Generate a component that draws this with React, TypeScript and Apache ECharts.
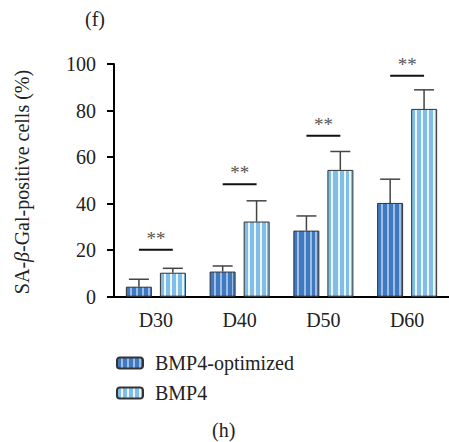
import React, { useEffect, useRef } from "react";
import * as echarts from "echarts";

const categories = ["D30", "D40", "D50", "D60"];
const optimizedValues = [4.3, 10.8, 28.4, 40.3];
const optimizedErrTop = [7.5, 13.2, 34.7, 50.5];
const bmp4Values = [10.3, 32.3, 54.5, 80.7];
const bmp4ErrTop = [12.2, 41.2, 62.4, 88.9];
const sigLevels = [20.2, 48.3, 69.2, 95];
const sigLabels = ["**", "**", "**", "**"];
const yTicks = [0, 20, 40, 60, 80, 100];

const FONT = "Liberation Serif";

function stripes(base: string, stripe: string) {
  const stops: { offset: number; color: string }[] = [];
  const bands = [
    [0, 0.14, base],
    [0.14, 0.22, stripe],
    [0.22, 0.39, base],
    [0.39, 0.47, stripe],
    [0.47, 0.63, base],
    [0.63, 0.71, stripe],
    [0.71, 0.86, base],
    [0.86, 0.93, stripe],
    [0.93, 1, base],
  ] as [number, number, string][];
  bands.forEach(([a, b, c]) => {
    stops.push({ offset: a, color: c });
    stops.push({ offset: b, color: c });
  });
  return { type: "linear", x: 0, y: 0, x2: 1, y2: 0, colorStops: stops };
}

const darkFill = stripes("#4179c0", "#9dbfe6");
const lightFill = stripes("#80bee8", "#eaf5fc");

export default function App() {
  const ref = useRef<HTMLDivElement>(null);
  useEffect(() => {
    const chart = echarts.init(ref.current!, undefined, { renderer: "svg" });
    const offsetFrac = 17 / 84;
    const errSeries = (vals: number[], tops: number[], sign: number, name: string) => ({
      type: "custom",
      name,
      z: 1,
      data: vals.map((v, i) => [i, v, tops[i]]),
      renderItem: (params: any, api: any) => {
        const idx = api.value(0);
        const band = api.size([1, 0])[0];
        const off = band * offsetFrac * sign;
        const p0 = api.coord([idx, api.value(1)]);
        const p1 = api.coord([idx, api.value(2)]);
        const x = p0[0] + off;
        const style = { stroke: "#444", lineWidth: 1.5 };
        return {
          type: "group",
          children: [
            { type: "line", shape: { x1: x, y1: p0[1], x2: x, y2: p1[1] }, style },
            { type: "line", shape: { x1: x - 10, y1: p1[1], x2: x + 10, y2: p1[1] }, style },
          ],
        };
      },
    });
    chart.setOption({
      animation: false,
      textStyle: { fontFamily: FONT },
      grid: { left: 114, top: 64, width: 336, height: 232.7 },
      legend: {
        orient: "vertical",
        left: 111,
        top: 348,
        itemWidth: 26,
        itemHeight: 11,
        itemGap: 10,
        textStyle: { fontFamily: FONT, fontSize: 20, lineHeight: 20, color: "#222", padding: [0, 0, 0, 7] },
        data: ["BMP4-optimized", "BMP4"],
      },
      xAxis: {
        type: "category",
        data: categories,
        axisLine: { lineStyle: { color: "#000", width: 2 } },
        axisTick: { alignWithLabel: true, length: 7, lineStyle: { width: 2, color: "#000" } },
        axisLabel: { fontFamily: FONT, fontSize: 20, color: "#222", margin: 13 },
      },
      yAxis: {
        type: "value",
        min: yTicks[0],
        max: yTicks[yTicks.length - 1],
        interval: 20,
        splitLine: { show: false },
        axisLine: { show: true, lineStyle: { color: "#000", width: 2 } },
        axisTick: { show: true, length: 7, lineStyle: { width: 2, color: "#000" } },
        axisLabel: { fontFamily: FONT, fontSize: 20, color: "#222", margin: 18 },
      },
      series: [
        {
          name: "BMP4-optimized",
          type: "bar",
          data: optimizedValues,
          barWidth: 26,
          barGap: "31%",
          z: 2,
          itemStyle: { color: darkFill, borderColor: "#333", borderWidth: 1 },
        },
        {
          name: "BMP4",
          type: "bar",
          data: bmp4Values,
          barWidth: 26,
          z: 2,
          itemStyle: { color: lightFill, borderColor: "#333", borderWidth: 1 },
        },
        errSeries(optimizedValues, optimizedErrTop, -1, "errA"),
        errSeries(bmp4Values, bmp4ErrTop, 1, "errB"),
        {
          type: "custom",
          name: "sig",
          z: 3,
          data: sigLevels.map((v, i) => [i, v]),
          renderItem: (params: any, api: any) => {
            const idx = api.value(0);
            const band = api.size([1, 0])[0];
            const off = band * offsetFrac;
            const p = api.coord([idx, api.value(1)]);
            return {
              type: "group",
              children: [
                {
                  type: "line",
                  shape: { x1: p[0] - off, y1: p[1], x2: p[0] + off, y2: p[1] },
                  style: { stroke: "#111", lineWidth: 2 },
                },
                {
                  type: "text",
                  style: {
                    text: sigLabels[params.dataIndex],
                    x: p[0],
                    y: p[1] - 2,
                    textAlign: "center",
                    textVerticalAlign: "bottom",
                    fontFamily: FONT,
                    fontSize: 19,
                    fill: "#555",
                  },
                },
              ],
            };
          },
        },
      ],
      graphic: [
        { type: "text", left: 85, top: 9, style: { text: "(f)", fontFamily: FONT, fontSize: 20, fill: "#222" } },
        { type: "text", left: 212, top: 420, style: { text: "(h)", fontFamily: FONT, fontSize: 20, fill: "#222" } },
        {
          type: "text",
          x: 22,
          y: 182,
          rotation: Math.PI / 2,
          style: {
            text: "{a|SA-}{b|β}{a|-Gal-positive cells (%)}",
            align: "center",
            verticalAlign: "middle",
            rich: {
              a: { fontFamily: FONT, fontSize: 20, fill: "#222" },
              b: { fontFamily: FONT, fontSize: 20, fill: "#222", fontStyle: "italic" },
            },
          },
        },
      ],
    });
    return () => chart.dispose();
  }, []);
  return <div ref={ref} style={{ width: 449, height: 442, position: "absolute", left: 0, top: 0 }} />;
}
